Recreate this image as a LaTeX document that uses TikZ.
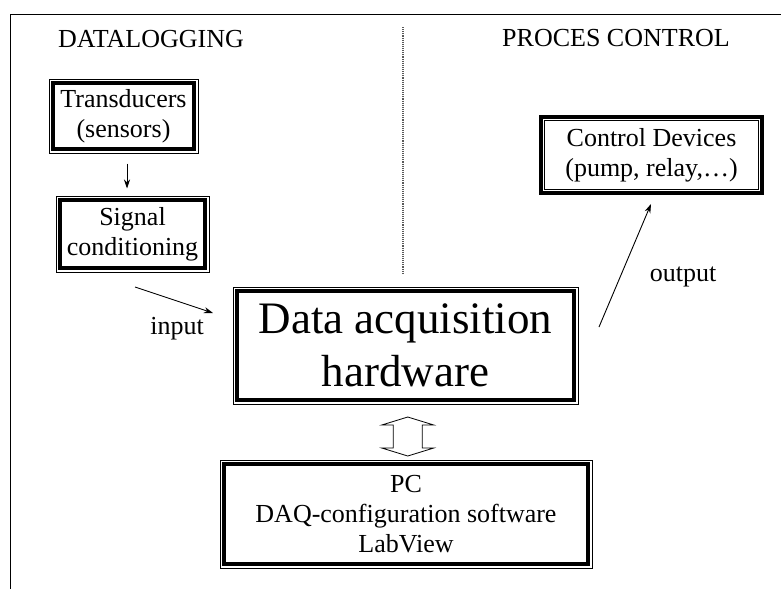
\documentclass[tikz,border=0pt]{standalone}
\usepackage{fontspec}
\setmainfont{Liberation Serif}
\usetikzlibrary{arrows.meta,calc}

\tikzset{
  label26/.style={font=\fontsize{26}{30}\selectfont, align=center, inner sep=0pt},
  blockbox/.style={draw, line width=1pt, minimum width=#1, inner sep=0pt,
    font=\fontsize{26}{30}\selectfont, align=center},
  thinarrow/.style={line width=0.9pt, -{Stealth[length=9pt,width=6pt]}},
}

\begin{document}
\begin{tikzpicture}[x=1pt,y=-1pt]
  \useasboundingbox (0,0) rectangle (781,589);

  % frame lines at the top and on the left
  \coordinate (frameTL) at (10,14);
  \coordinate (frameTR) at (781,14);
  \coordinate (frameBL) at (10,589);
  \draw[line width=1pt] (frameTR) -- (frameTL) -- (frameBL);

  % divider between the two halves
  \coordinate (divTop) at (403,27);
  \coordinate (divBot) at (403,273);
  \draw[gray!70!black, densely dotted, line width=1.1pt] (divTop) -- (divBot);

  % section headings
  \node[label26] (hdlog) at (151,39) {DATALOGGING};
  \node[label26] (hdctl) at (616,38) {PROCES CONTROL};

  % blocks
  \node[blockbox=149pt, minimum height=74pt] (trans) at (123.5,116) {Transducers\\(sensors)};
  \node[blockbox=153pt, minimum height=76pt] (sig) at (132.5,234) {Signal\\conditioning};
  \node[blockbox=221pt, minimum height=76pt, line width=3.5pt] (ctrl) at (651.5,155) {Control Devices\\(pump, relay,…)};
  \node[blockbox=345pt, minimum height=117pt, font=\fontsize{45}{53}\selectfont] (daq) at (405.5,345.5) {Data acquisition\\hardware};
  \node[blockbox=372pt, minimum height=108pt] (pc) at (406,514) {PC\\DAQ-configuration software\\LabView};

  % thick inner rules of the thin-thick borders
  \foreach \b in {trans,sig,daq,pc}{
    \draw[line width=3.5pt] ([shift={(4.5,4.5)}]\b.north west) rectangle ([shift={(-4.5,-4.5)}]\b.south east);
  }
  % thin inner rule of the thick-thin border
  \draw[line width=0.9pt] ([shift={(5,5)}]ctrl.north west) rectangle ([shift={(-5,-5)}]ctrl.south east);

  % transducers feed the signal conditioning
  \coordinate (feedX) at (127,0);
  \draw[thinarrow] ($(trans.south -| feedX)+(0,10)$) -- ($(sig.north -| feedX)+(0,-7)$);

  % input arrow
  \coordinate (inA) at (135,287);
  \coordinate (inB) at (213,313);
  \draw[thinarrow] (inA) -- (inB);
  \node[label26] (inlbl) at (177,329) {input};

  % output arrow
  \coordinate (outA) at (599,327);
  \coordinate (outB) at (651,204);
  \draw[thinarrow] (outA) -- (outB);
  \node[label26] (outlbl) at (683,277) {output};

  % hollow double arrow between hardware and PC
  \path (daq.south) -- (pc.north) coordinate[midway] (link);
  \draw[line width=0.8pt, fill=white, shift={($(link)+(2,4.5)$)}]
    (0,-19.5) -- (26,-11.5) -- (14.5,-11.5) -- (14.5,11.5) -- (26,11.5) -- (0,19.5)
    -- (-26,11.5) -- (-14.5,11.5) -- (-14.5,-11.5) -- (-26,-11.5) -- cycle;
\end{tikzpicture}
\end{document}
